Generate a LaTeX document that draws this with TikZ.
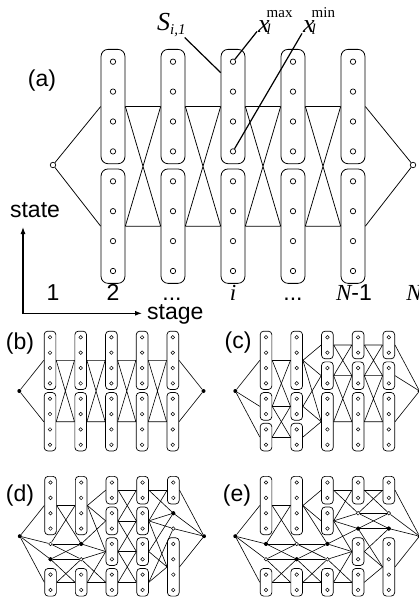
\documentclass[tikz,border=0pt]{standalone}
\usepackage{fontspec}
\setmainfont{Liberation Sans}
\newfontfamily\tms{Liberation Serif}
\usetikzlibrary{fit,arrows.meta}

\begin{document}
\begin{tikzpicture}[x=1pt,y=-1pt]
    \tikzstyle{stdot}=[circle,draw,line width=0.5pt,inner sep=0pt,minimum size=3.6pt]
    \tikzstyle{bigdot}=[circle,draw,line width=0.7pt,inner sep=0pt,minimum size=5.4pt]
    \tikzstyle{setbox}=[draw,line width=0.7pt,rounded corners=3.5pt,inner xsep=3.8pt,inner ysep=4.1pt]
    \tikzstyle{bigset}=[draw,line width=0.8pt,rounded corners=7pt,inner xsep=8.9pt,inner ysep=9.3pt]
    \tikzstyle{link}=[line width=0.6pt]
    \tikzstyle{biglink}=[line width=0.75pt]
    \tikzstyle{endpt}=[circle,fill,inner sep=0pt,minimum size=4pt]
    \tikzstyle{bigend}=[circle,draw,line width=0.7pt,inner sep=0pt,minimum size=5.5pt]
    \tikzstyle{lab}=[font=\fontsize{23}{23}\selectfont,inner sep=0pt]
    \tikzstyle{tlab}=[font=\fontsize{26}{26}\selectfont\tms,inner sep=1pt]
    \tikzstyle{lead}=[line width=1.2pt]
    \tikzstyle{axisline}=[line width=1.1pt]

    \useasboundingbox (0,0) rectangle (419,597);

    % (a)
    \foreach \k in {1,...,5} {
      \foreach \j in {1,...,8}
        \node[bigdot] (a\k\j) at ({53+60*\k},{61.7+29.9*(\j-1)}) {};
      \node[bigset,fit=(a\k1)(a\k4)] (aT\k) {};
      \node[bigset,fit=(a\k5)(a\k8)] (aB\k) {};
    }
    \node[bigend] (a0) at (53,165) {};
    \node[bigend] (a6) at (413,165) {};
    \draw[biglink] (a0) -- (aT1.west) (a0) -- (aB1.west);
    \foreach \k/\n in {1/2,2/3,3/4,4/5}
      \draw[biglink] (aT\k.east) -- (aT\n.west) (aT\k.east) -- (aB\n.west)
        (aB\k.east) -- (aT\n.west) (aB\k.east) -- (aB\n.west);
    \draw[biglink] (aT5.east) -- (a6) (aB5.east) -- (a6);

    \node[lab] (la) at (42,81) {(a)};
    \node[tlab,anchor=base west] (sil) at (156,30) {\textit{S}\raisebox{-4pt}{\fontsize{15}{15}\selectfont\textit{i,1}}};
    \node[tlab,anchor=base west] (xmx) at (257,32) {\textit{x}\hspace{-3pt}\rlap{\raisebox{15pt}{\fontsize{15}{15}\selectfont max}}\raisebox{-2pt}{\fontsize{15}{15}\selectfont\textit{l}}};
    \node[tlab,anchor=base west] (xmn) at (302,32) {\textit{x}\hspace{-3pt}\rlap{\raisebox{15pt}{\fontsize{15}{15}\selectfont min}}\raisebox{-2pt}{\fontsize{15}{15}\selectfont\textit{l}}};
    \draw[lead] (sil) -- (aT3.110);
    \draw[lead] (xmx) -- (a31);
    \draw[lead] (xmn) -- (a34);

    \node[lab,anchor=base] (s1) at (53,300.5) {1};
    \node[lab,anchor=base] (s2) at (113,300.5) {2};
    \node[lab,anchor=base] (s3) at (172,300.5) {...};
    \node[lab,anchor=base] (s4) at (233,300.5) {\tms\itshape i};
    \node[lab,anchor=base] (s5) at (293,300.5) {...};
    \node[lab,anchor=base] (s6) at (354,300.5) {{\tms\itshape N}-1};
    \node[lab,anchor=base] (s7) at (414,300.5) {\tms\itshape N};

    \coordinate (org) at (23,313.3);
    \coordinate (sttip) at (23,227);
    \coordinate (sgtip) at (142,313.3);
    \draw[axisline,{Latex[length=7pt,width=5pt]}-{Latex[length=7pt,width=5pt]}] (sttip) -- (org) -- (sgtip);
    \node[lab,anchor=base] (statel) at (35,217) {state};
    \node[lab,anchor=base west] (stagel) at (147,319) {stage};

    % (b)-(e)
    \foreach \p/\ox/\oy in {b/19.3/337.3,c/235.3/337.3,d/19.8/482.5,e/235.3/482.5} {
      \foreach \k in {1,...,5}
        \foreach \j in {1,...,8}
          \node[stdot] (\p\k\j) at ({\ox+30.7*\k},{\oy+15.35*(\j-1)}) {};
      \node[endpt] (\p0) at (\ox,{\oy+53.7}) {};
      \node[endpt] (\p6) at ({\ox+184.2},{\oy+53.7}) {};
    }
    \node[lab] (lb) at (20,344) {(b)};
    \node[lab] (lc) at (238,343) {(c)};
    \node[lab] (ld) at (20,496) {(d)};
    \node[lab] (le) at (237,496) {(e)};

    % (b)
    \foreach \k in {1,...,5} {
      \node[setbox,fit=(b\k1)(b\k4)] (bT\k) {};
      \node[setbox,fit=(b\k5)(b\k8)] (bB\k) {};
    }
    \draw[link] (b0) -- (bT1.west) (b0) -- (bB1.west);
    \foreach \k/\n in {1/2,2/3,3/4,4/5}
      \draw[link] (bT\k.east) -- (bT\n.west) (bT\k.east) -- (bB\n.west)
        (bB\k.east) -- (bT\n.west) (bB\k.east) -- (bB\n.west);
    \draw[link] (bT5.east) -- (b6) (bB5.east) -- (b6);

    % (c)
    \foreach \k in {1,2} {
      \node[setbox,fit=(c\k1)(c\k4)] (cT\k) {};
      \node[setbox,fit=(c\k5)(c\k6)] (cM\k) {};
      \node[setbox,fit=(c\k7)(c\k8)] (cL\k) {};
    }
    \foreach \k in {3,4,5} {
      \node[setbox,fit=(c\k1)(c\k2)] (cA\k) {};
      \node[setbox,fit=(c\k3)(c\k4)] (cB\k) {};
      \node[setbox,fit=(c\k5)(c\k8)] (cC\k) {};
    }
    \foreach \u/\v in {c0/cT1.west,c0/cM1.west,c0/cL1.west,
        cT1.east/cT2.west,cT1.east/cM2.west,cM1.east/cT2.west,cM1.east/cM2.west,
        cM1.east/cL2.west,cL1.east/cM2.west,cL1.east/cL2.west,
        cT2.east/cA3.west,cT2.east/cB3.west,cT2.east/cC3.west,cM2.east/cB3.west,
        cM2.east/cC3.west,cL2.east/cC3.west,
        cA5.east/c6,cB5.east/c6,cC5.east/c6}
      \draw[link] (\u) -- (\v);
    \foreach \k/\n in {3/4,4/5}
      \draw[link] (cA\k.east) -- (cA\n.west) (cA\k.east) -- (cB\n.west)
        (cB\k.east) -- (cA\n.west) (cB\k.east) -- (cB\n.west) (cB\k.east) -- (cC\n.west)
        (cC\k.east) -- (cB\n.west) (cC\k.east) -- (cC\n.west);

    % (d)
    \foreach \k in {1,2} {
      \node[setbox,fit=(d\k1)(d\k4)] (dT\k) {};
      \node[setbox,fit=(d\k7)(d\k8)] (dL\k) {};
    }
    \foreach \k in {3,4} {
      \node[setbox,fit=(d\k1)(d\k2)] (dA\k) {};
      \node[setbox,fit=(d\k3)(d\k4)] (dB\k) {};
      \node[setbox,fit=(d\k5)(d\k6)] (dC\k) {};
      \node[setbox,fit=(d\k7)(d\k8)] (dD\k) {};
    }
    \node[setbox,fit=(d51)(d52)] (dA5) {};
    \node[setbox,fit=(d55)(d58)] (dC5) {};
    \foreach \u/\v in {d0/dT1.west,d0/d15,d0/d16,d0/dL1.west,
        dT1.east/dT2.west,dT1.east/d25,d15/dT2.west,d15/d25,d15/d26,
        d16/d25,d16/d26,d16/dL2.west,dL1.east/d26,dL1.east/dL2.west,
        dT2.east/dA3.west,dT2.east/dB3.west,dT2.east/dC3.west,d25/dB3.west,
        d25/dC3.west,d26/dC3.west,d26/dD3.west,dL2.east/dC3.west,dL2.east/dD3.west,
        dA3.east/dA4.west,dA3.east/dB4.west,dB3.east/dA4.west,dB3.east/dB4.west,
        dB3.east/dC4.west,dC3.east/dB4.west,dC3.east/dC4.west,dC3.east/dD4.west,
        dD3.east/dC4.west,dD3.east/dD4.west,
        dA4.east/dA5.west,dA4.east/d53,dB4.east/dA5.west,dB4.east/d53,dB4.east/d54,
        dB4.east/dC5.west,dC4.east/d53,dC4.east/dC5.west,dD4.east/d54,dD4.east/dC5.west,
        dA5.east/d6,d53/d6,d54/d6,dC5.east/d6}
      \draw[link] (\u) -- (\v);

    % (e)
    \foreach \k in {1,2} {
      \node[setbox,fit=(e\k1)(e\k4)] (eT\k) {};
      \node[setbox,fit=(e\k7)(e\k8)] (eL\k) {};
    }
    \node[setbox,fit=(e31)(e32)] (eA3) {};
    \node[setbox,fit=(e33)(e34)] (eB3) {};
    \node[setbox,fit=(e37)(e38)] (eL3) {};
    \node[setbox,fit=(e41)(e42)] (eA4) {};
    \node[setbox,fit=(e45)(e46)] (eC4) {};
    \node[setbox,fit=(e47)(e48)] (eD4) {};
    \node[setbox,fit=(e51)(e52)] (eA5) {};
    \node[setbox,fit=(e55)(e58)] (eC5) {};
    \foreach \u/\v in {e0/eT1.west,e0/e15,e0/e16,e0/eL1.west,
        eT1.east/eT2.west,eT1.east/e25,e15/eT2.west,e15/e25,e15/e26,
        e16/e25,e16/e26,e16/eL2.west,eL1.east/e26,eL1.east/eL2.west,
        eT2.east/eA3.west,eT2.east/eB3.west,eT2.east/e35,e25/e35,e25/e36,
        e26/e35,e26/e36,e26/eL3.west,eL2.east/e36,eL2.east/eL3.west,
        eA3.east/eA4.west,eA3.east/e43,eB3.east/eA4.west,eB3.east/e43,eB3.east/e44,
        eB3.east/eC4.west,e35/e44,e35/eC4.west,e36/eC4.west,e36/eD4.west,
        eL3.east/eC4.west,eL3.east/eD4.west,
        eA4.east/eA5.west,eA4.east/e53,e43/eA5.west,e43/e53,e43/e54,
        e44/e53,e44/e54,e44/eC5.west,eC4.east/e54,eC4.east/eC5.west,eD4.east/eC5.west,
        eA5.east/e6,e53/e6,e54/e6,eC5.east/e6}
      \draw[link] (\u) -- (\v);

    \foreach \n in {d16,d25,d53,e15,e26,e35,e44,e54}
      \fill (\n) circle (2);
\end{tikzpicture}
\end{document}
